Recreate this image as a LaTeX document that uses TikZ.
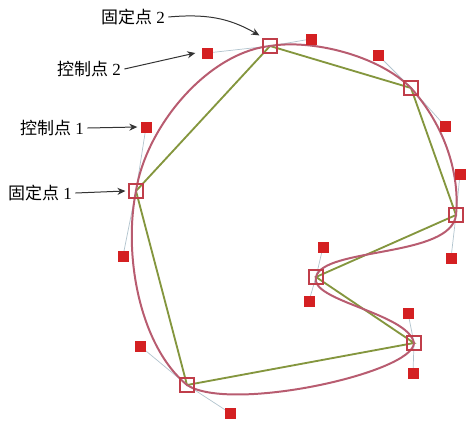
\documentclass[tikz,border=0pt]{standalone}
\usepackage{fontspec}
\setmainfont{Liberation Serif}
\newfontfamily\cjk{Noto Sans CJK SC}
\usetikzlibrary{arrows.meta,backgrounds}
\definecolor{curvecol}{RGB}{184,92,112}
\definecolor{polycol}{RGB}{132,150,62}
\definecolor{anchorcol}{RGB}{192,62,74}
\definecolor{handlecol}{RGB}{212,32,34}
\definecolor{armcol}{RGB}{178,196,206}
\tikzset{
	fixpt/.style={draw=anchorcol, line width=0.4mm, minimum size=14pt, inner sep=0pt},
	ctrlpt/.style={fill=handlecol, minimum size=11pt, inner sep=0pt},
	arm/.style={armcol, line width=0.25mm},
	label/.style={font=\fontsize{17}{20}\selectfont},
	pointer/.style={-{Stealth[length=8pt,width=7pt]}, line width=0.35mm, black!80}
}

\begin{document}
\begin{tikzpicture}[x=1pt, y=-1pt]
		%%%%% START %%%%%
		\useasboundingbox (0, 0) rectangle (466, 424);
		
		% fixed points
		\node[fixpt] (f1) at (136, 191) {};
		\node[fixpt] (f2) at (270, 46) {};
		\node[fixpt] (f3) at (411, 88) {};
		\node[fixpt] (f4) at (456, 215) {};
		\node[fixpt] (f5) at (316, 277) {};
		\node[fixpt] (f6) at (414, 343) {};
		\node[fixpt] (f7) at (187, 385) {};
		
		% control points (a = in, b = out)
		\node[ctrlpt] (c1a) at (123, 256) {};
		\node[ctrlpt] (c1b) at (146, 127) {};
		\node[ctrlpt] (c2a) at (207, 53) {};
		\node[ctrlpt] (c2b) at (311, 39) {};
		\node[ctrlpt] (c3a) at (378, 55) {};
		\node[ctrlpt] (c3b) at (445, 126) {};
		\node[ctrlpt] (c4a) at (460, 174) {};
		\node[ctrlpt] (c4b) at (451, 258) {};
		\node[ctrlpt] (c5a) at (323, 247) {};
		\node[ctrlpt] (c5b) at (309, 301) {};
		\node[ctrlpt] (c6a) at (408, 313) {};
		\node[ctrlpt] (c6b) at (413, 373) {};
		\node[ctrlpt] (c7a) at (230, 413) {};
		\node[ctrlpt] (c7b) at (140, 346) {};
		
		\begin{pgfonlayer}{background}
		\foreach \i in {1,...,7}
			\draw[arm] (c\i a.center) -- (f\i.center) -- (c\i b.center);
		
		\draw[polycol, line width=0.65mm] (f1.center) -- (f2.center) -- (f3.center) -- (f4.center)
			-- (f5.center) -- (f6.center) -- (f7.center) -- cycle;
		
		\draw[curvecol, line width=0.7mm]
			(f1.center) .. controls (c1b.center) and (c2a.center) .. (f2.center)
			.. controls (c2b.center) and (c3a.center) .. (f3.center)
			.. controls (c3b.center) and (c4a.center) .. (f4.center)
			.. controls (c4b.center) and (c5a.center) .. (f5.center)
			.. controls (c5b.center) and (c6a.center) .. (f6.center)
			.. controls (c6b.center) and (c7a.center) .. (f7.center)
			.. controls (c7b.center) and (c1a.center) .. (f1.center);
		\end{pgfonlayer}
		
		% labels
		\node[label] (lf2) at (133, 17) {{\cjk 固定点} 2};
		\node[label] (lc2) at (89, 69) {{\cjk 控制点} 2};
		\node[label] (lc1) at (52, 128) {{\cjk 控制点} 1};
		\node[label] (lf1) at (40, 193) {{\cjk 固定点} 1};
		
		\draw[pointer] (lf2.east) to[out=5, in=150] ([xshift=-3pt, yshift=3pt]f2.north west);
		\draw[pointer] (lc2.east) -- ([xshift=-6pt]c2a.west);
		\draw[pointer] (lc1.east) -- ([xshift=-3pt]c1b.west);
		\draw[pointer] (lf1.east) -- ([xshift=-3pt]f1.west);
		
		%%%%% END %%%%%
\end{tikzpicture}
\end{document}
